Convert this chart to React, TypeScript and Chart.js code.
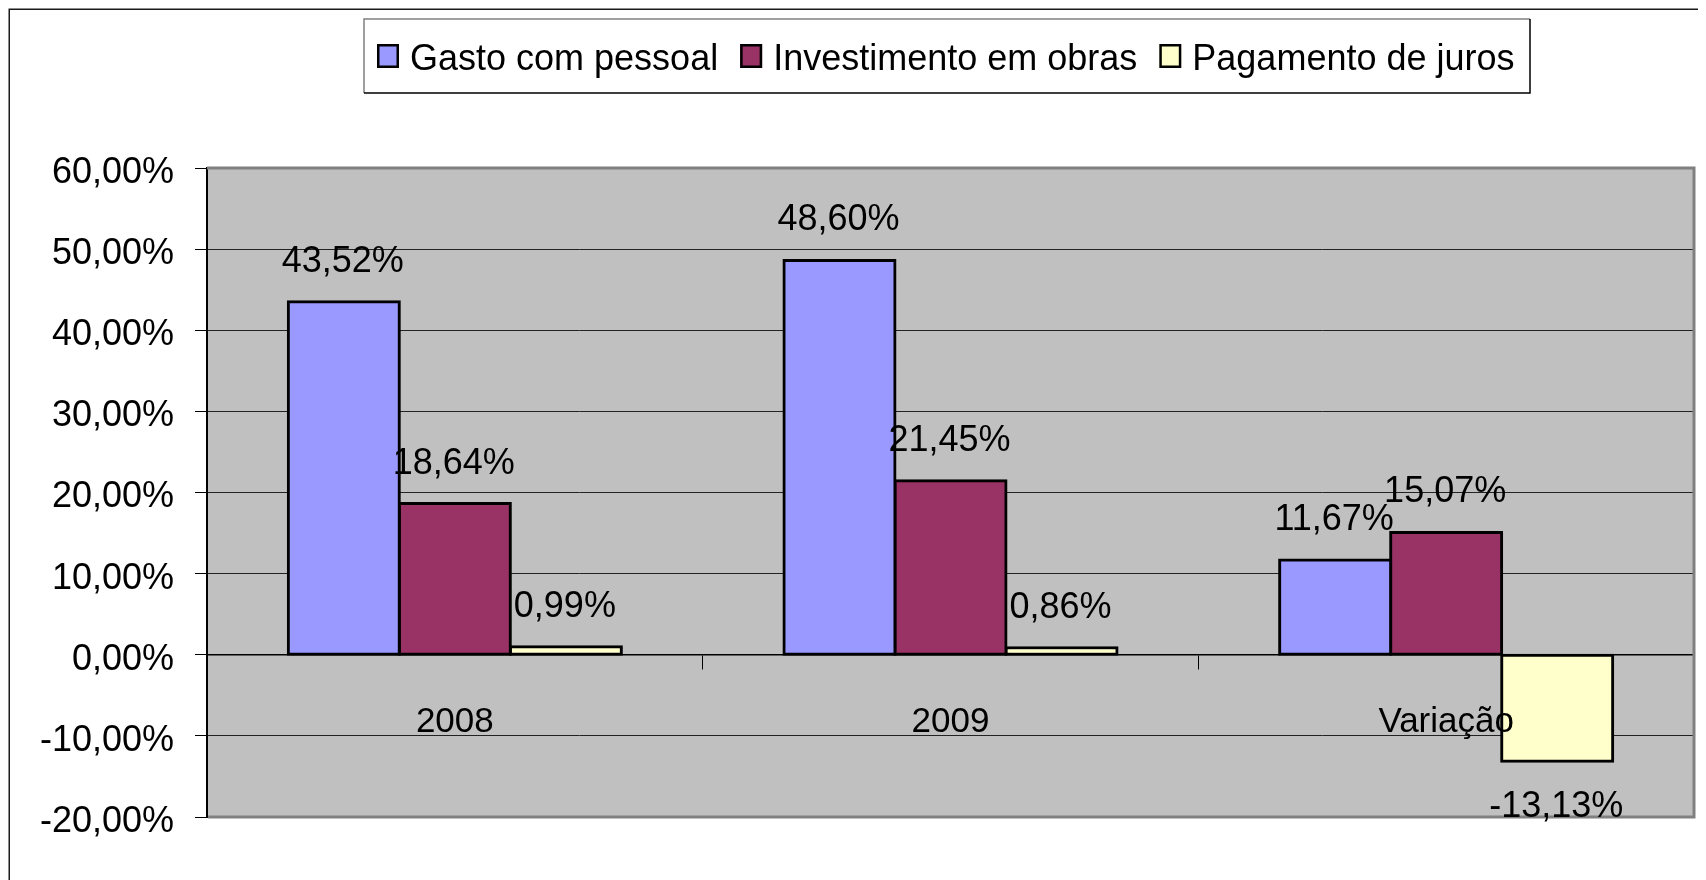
import React, { useEffect, useRef } from 'react';
import { Chart, registerables } from 'chart.js';

Chart.register(...registerables);

const categories = ['2008', '2009', 'Variação'];
const seriesNames = ['Gasto com pessoal', 'Investimento em obras', 'Pagamento de juros'];
const gastoPessoal = [43.52, 48.6, 11.67];
const investimentoObras = [18.64, 21.45, 15.07];
const pagamentoJuros = [0.99, 0.86, -13.13];
const seriesColors = ['#9999FF', '#993366', '#FFFFCC'];
const yTicks = [-20, -10, 0, 10, 20, 30, 40, 50, 60];

const FONT = '"Liberation Sans", Arial, sans-serif';
const fmt = (v: number) => v.toFixed(2).replace('.', ',') + '%';

const framePlugin = {
  id: 'framePlugin',
  beforeDraw(chart: any) {
    const { ctx, chartArea: a } = chart;
    ctx.save();
    ctx.fillStyle = '#ffffff';
    ctx.fillRect(0, 0, chart.width, chart.height);
    ctx.strokeStyle = '#1a1a1a';
    ctx.lineWidth = 1.5;
    ctx.beginPath();
    ctx.moveTo(1.25, chart.height + 5);
    ctx.lineTo(1.25, 1.25);
    ctx.lineTo(chart.width + 5, 1.25);
    ctx.stroke();
    ctx.fillStyle = '#C0C0C0';
    ctx.fillRect(a.left, a.top, a.right - a.left, a.bottom - a.top);
    ctx.restore();
  },
  beforeDatasetsDraw(chart: any) {
    const { ctx, chartArea: a } = chart;
    ctx.save();
    ctx.strokeStyle = '#808080';
    ctx.lineWidth = 3;
    ctx.beginPath();
    ctx.moveTo(a.left, a.top);
    ctx.lineTo(a.right, a.top);
    ctx.lineTo(a.right, a.bottom);
    ctx.lineTo(a.left + 1, a.bottom);
    ctx.stroke();
    ctx.restore();
  },
};

const dataLabelPlugin = {
  id: 'dataLabelPlugin',
  afterDatasetsDraw(chart: any) {
    const { ctx } = chart;
    ctx.save();
    ctx.font = `36px ${FONT}`;
    ctx.fillStyle = '#000';
    ctx.textAlign = 'center';
    ctx.textBaseline = 'alphabetic';
    chart.data.datasets.forEach((ds: any, di: number) => {
      const meta = chart.getDatasetMeta(di);
      meta.data.forEach((el: any, i: number) => {
        const v = ds.data[i] as number;
        const y = v >= 0 ? el.y - 30 : el.y + 56;
        ctx.fillText(fmt(v), el.x - 1, y);
      });
    });
    ctx.restore();
  },
};

const legendPlugin = {
  id: 'legendPlugin',
  afterDraw(chart: any) {
    const { ctx } = chart;
    const bx = 356, by = 11, bw = 1166, bh = 74;
    ctx.save();
    ctx.lineWidth = 1.5;
    ctx.strokeStyle = '#808080';
    ctx.beginPath();
    ctx.moveTo(bx, by + bh);
    ctx.lineTo(bx, by);
    ctx.lineTo(bx + bw, by);
    ctx.stroke();
    ctx.strokeStyle = '#000';
    ctx.beginPath();
    ctx.moveTo(bx + bw, by);
    ctx.lineTo(bx + bw, by + bh);
    ctx.lineTo(bx, by + bh);
    ctx.stroke();

    ctx.font = `36px ${FONT}`;
    ctx.textBaseline = 'alphabetic';
    ctx.textAlign = 'left';
    let x = 369;
    chart.data.datasets.forEach((ds: any) => {
      const my = 36, ms = 22, mh = 24;
      ctx.fillStyle = ds.backgroundColor;
      ctx.fillRect(x, my, ms, mh);
      ctx.strokeStyle = '#000';
      ctx.lineWidth = 2.5;
      ctx.strokeRect(x + 1.25, my + 1.25, ms - 2.5, mh - 2.5);
      ctx.fillStyle = '#000';
      const tx = x + 33;
      ctx.fillText(ds.label, tx, 62);
      x = tx + ctx.measureText(ds.label).width + 22;
    });
    ctx.restore();
  },
};

export default function App() {
  const canvasRef = useRef<HTMLCanvasElement | null>(null);

  useEffect(() => {
    document.documentElement.style.overflow = 'hidden';
    document.body.style.overflow = 'hidden';
    const canvas = canvasRef.current;
    if (!canvas) return;
    const seriesData = [gastoPessoal, investimentoObras, pagamentoJuros];
    const chart = new Chart(canvas, {
      type: 'bar',
      data: {
        labels: categories,
        datasets: seriesNames.map((name, i) => ({
          label: name,
          data: seriesData[i],
          backgroundColor: seriesColors[i],
          borderColor: '#000',
          borderWidth: 3,
          borderSkipped: false,
          inflateAmount: 1.5,
          categoryPercentage: 0.672,
          barPercentage: 1,
        })),
      },
      options: {
        animation: false,
        responsive: false,
        maintainAspectRatio: false,
        events: [],
        layout: { padding: { top: 160, right: 12, bottom: 63, left: 0 } },
        plugins: {
          legend: { display: false },
          tooltip: { enabled: false },
          title: { display: false },
        },
        scales: {
          x: {
            position: { y: 0 } as any,
            offset: true,
            grid: {
              display: true,
              drawOnChartArea: false,
              drawTicks: true,
              tickLength: 14,
              color: '#000',
              lineWidth: 1,
              offset: true,
            },
            border: { display: true, color: '#000', width: 1.5 },
            ticks: {
              z: 1,
              font: { family: FONT, size: 35 },
              color: '#000',
              padding: 33,
              maxRotation: 0,
              autoSkip: false,
            },
          },
          y: {
            min: -20,
            max: 60,
            afterBuildTicks: (scale: any) => {
              scale.ticks = yTicks.map((v) => ({ value: v }));
            },
            afterFit: (scale: any) => {
              scale.width = 199;
            },
            grid: {
              color: '#222',
              lineWidth: 1,
              tickLength: 12,
              drawTicks: true,
              tickColor: '#000',
            },
            border: { display: true, color: '#000', width: 2 },
            ticks: {
              font: { family: FONT, size: 36 },
              color: '#000',
              padding: 21,
              labelOffset: 5,
              callback: (v: any) => fmt(Number(v)),
            },
          },
        },
      },
      plugins: [framePlugin, dataLabelPlugin, legendPlugin],
    });
    return () => chart.destroy();
  }, []);

  return (
    <div style={{ width: 1698, height: 872 }}>
      <canvas ref={canvasRef} width={1698} height={872} style={{ display: 'block' }} />
    </div>
  );
}
